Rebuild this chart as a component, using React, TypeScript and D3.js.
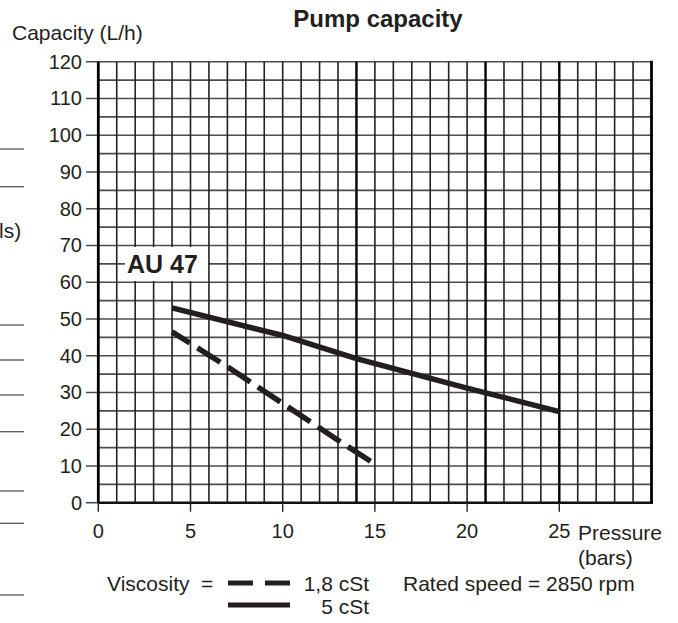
import React from "react";
import * as d3 from "d3";

// ---- data ----
const xTicks = [0, 5, 10, 15, 20, 25];
const yTicks = [0, 10, 20, 30, 40, 50, 60, 70, 80, 90, 100, 110, 120];
const pressure5cSt = [4, 10, 14, 20, 25];
const capacity5cSt = [53, 45.5, 39.2, 31.2, 24.8];
const pressure18cSt = [4, 7, 10, 13, 15];
const capacity18cSt = [46.5, 37, 27, 17, 10.5];
const thickVerticals = [0, 14, 21, 25, 30];

const W = 678;
const H = 623;
const FONT = "'Liberation Sans', Arial, Helvetica, sans-serif";
const INK = "#231f20";

export default function App() {
  const x = d3.scaleLinear().domain([0, 30]).range([98.3, 651.5]);
  const y = d3.scaleLinear().domain([0, 120]).range([502.7, 61.7]);

  const line = d3
    .line<[number, number]>()
    .x((d) => x(d[0]))
    .y((d) => y(d[1]));

  const solidPts: [number, number][] = pressure5cSt.map((p, i) => [p, capacity5cSt[i]]);
  const dashPts: [number, number][] = pressure18cSt.map((p, i) => [p, capacity18cSt[i]]);

  const vGrid = d3.range(0, 31);
  const hGrid = d3.range(0, 121, 5);

  const sideLines = [149, 186.7, 325, 360, 395, 431.7, 491, 523.3, 595];

  return (
    <svg
      width={W}
      height={H}
      style={{ position: "absolute", left: 0, top: 0, background: "#fff" }}
      fontFamily={FONT}
    >
      <rect x={0} y={0} width={W} height={H} fill="#fff" />

      {/* clipped remnants on the left edge */}
      {sideLines.map((v, i) => (
        <line key={"s" + i} x1={0} x2={24} y1={v} y2={v} stroke="#555" strokeWidth={1.3} />
      ))}
      <text x={-1} y={238} fontSize={21} fill={INK}>
        ls)
      </text>

      {/* horizontal grid */}
      {hGrid.map((v) => (
        <line
          key={"h" + v}
          x1={v % 10 === 0 && v !== 0 ? 86 : x(0)}
          x2={x(30) + 1.5}
          y1={y(v)}
          y2={y(v)}
          stroke={v === 0 ? "#111" : "#4d4d4d"}
          strokeWidth={v === 0 ? 2.4 : 1.6}
        />
      ))}
      <line x1={86} x2={x(0)} y1={y(0)} y2={y(0)} stroke="#4d4d4d" strokeWidth={1.6} />

      {/* vertical grid */}
      {vGrid.map((v) => {
        const thick = thickVerticals.includes(v);
        return (
          <line
            key={"v" + v}
            x1={x(v)}
            x2={x(v)}
            y1={y(120) - (v === 30 ? 1 : 0)}
            y2={y(0)}
            stroke={thick ? "#000" : "#222"}
            strokeWidth={v === 0 || v === 30 ? 2.8 : thick ? 2.4 : 1.6}
          />
        );
      })}

      {/* x ticks */}
      {xTicks.map((t) => (
        <g key={"xt" + t}>
          <line x1={x(t)} x2={x(t)} y1={y(0)} y2={y(0) + 9} stroke="#222" strokeWidth={1.4} />
          <text x={x(t)} y={538} fontSize={20} textAnchor="middle" fill={INK}>
            {t}
          </text>
        </g>
      ))}

      {/* y tick labels */}
      {yTicks.map((t) => (
        <text key={"yt" + t} x={82} y={y(t) + 7} fontSize={20} textAnchor="end" fill={INK}>
          {t}
        </text>
      ))}

      {/* AU 47 label box */}
      <rect x={125} y={247} width={83} height={34} fill="#fff" />
      <text x={127} y={273} fontSize={25} fontWeight="bold" fill={INK}>
        AU 47
      </text>

      {/* curves */}
      <path d={line(solidPts) || ""} fill="none" stroke={INK} strokeWidth={5.5} />
      <path
        d={line(dashPts) || ""}
        fill="none"
        stroke={INK}
        strokeWidth={5.5}
        strokeDasharray="27 9"
        strokeDashoffset={6}
      />

      {/* titles */}
      <text x={378} y={27} fontSize={24} fontWeight="bold" textAnchor="middle" fill={INK}>
        Pump capacity
      </text>
      <text x={12} y={40} fontSize={21} fill={INK}>
        Capacity (L/h)
      </text>
      <text x={578} y={540} fontSize={21} fill={INK}>
        Pressure
      </text>
      <text x={578} y={565} fontSize={21} fill={INK}>
        (bars)
      </text>

      {/* legend */}
      <text x={107} y={591} fontSize={21} fill={INK}>
        Viscosity
      </text>
      <text x={201} y={591} fontSize={21} fill={INK}>
        =
      </text>
      <line x1={228} x2={253} y1={583} y2={583} stroke={INK} strokeWidth={5} />
      <line x1={265} x2={290} y1={583} y2={583} stroke={INK} strokeWidth={5} />
      <line x1={228} x2={290} y1={605} y2={605} stroke={INK} strokeWidth={5} />
      <text x={369} y={591} fontSize={21} textAnchor="end" fill={INK}>
        1,8 cSt
      </text>
      <text x={369} y={614} fontSize={21} textAnchor="end" fill={INK}>
        5 cSt
      </text>
      <text x={403} y={591} fontSize={21} fill={INK}>
        Rated speed = 2850 rpm
      </text>
    </svg>
  );
}
